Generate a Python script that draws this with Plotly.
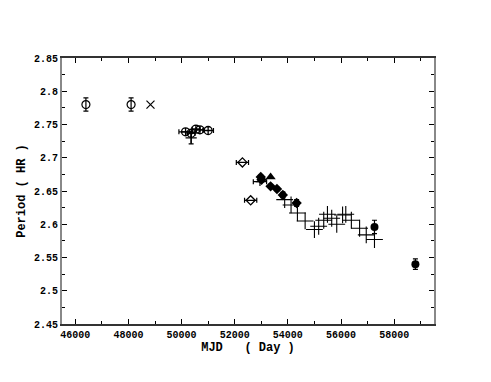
import plotly.graph_objects as go

# Open circles (early epochs) with vertical error bars
old_x = [46400, 48100]
old_y = [2.780, 2.780]
old_err = [0.010, 0.010]

# X marker
xm_x = [48830]
xm_y = [2.780]

# Cluster of open circles with horizontal error bars
cl_x = [50150, 50360, 50540, 50690, 51000]
cl_y = [2.739, 2.737, 2.743, 2.742, 2.741]
cl_xerr = [250, 150, 150, 150, 200]

# Plus with vertical error bar in cluster
cp_x = [50360]
cp_y = [2.730]
cp_err = [0.009]

# Open diamonds with horizontal error bars
od_x = [52290, 52600]
od_y = [2.693, 2.636]
od_xerr = [230, 230]

# Filled diamonds
fd_x = [52980, 53010, 53350, 53590, 53810, 54330]
fd_y = [2.671, 2.667, 2.657, 2.653, 2.644, 2.632]
fd_err = [0.003, 0.003, 0.003, 0.003, 0.004, 0.005]

# Horizontal error bar point
hb_x = [52950]
hb_y = [2.664]
hb_xerr = [250]

# Filled triangle
tr_x = [53350]
tr_y = [2.671]

# Filled circles with error bars
fc_x = [57260, 58800]
fc_y = [2.596, 2.540]
fc_err = [0.010, 0.008]

# Plus markers
pl_x = [53880, 54120, 54360, 54650, 55000, 55160, 55350, 55490, 55650,
        55840, 56060, 56180, 56390, 56700, 56950, 57260]
pl_y = [2.637, 2.629, 2.617, 2.605, 2.592, 2.597, 2.606, 2.615, 2.609,
        2.600, 2.614, 2.615, 2.606, 2.594, 2.584, 2.577]

x_ticks = [46000, 48000, 50000, 52000, 54000, 56000, 58000]
y_ticks = [2.45, 2.5, 2.55, 2.6, 2.65, 2.7, 2.75, 2.8, 2.85]

FONT = "Liberation Mono"
eb = dict(thickness=1.2, width=2.5, color="black")

fig = go.Figure()
fig.add_trace(go.Scatter(x=old_x, y=old_y, mode="markers",
                         marker=dict(symbol="circle-open", size=8, color="black", line=dict(width=1.2)),
                         error_y=dict(type="data", array=old_err, **eb)))
fig.add_trace(go.Scatter(x=xm_x, y=xm_y, mode="markers",
                         marker=dict(symbol="x-thin-open", size=8, color="black", line=dict(width=1.2))))
fig.add_trace(go.Scatter(x=cl_x, y=cl_y, mode="markers",
                         marker=dict(symbol="circle-cross-open", size=8, color="black", line=dict(width=1.3)),
                         error_x=dict(type="data", array=cl_xerr, **eb)))
fig.add_trace(go.Scatter(x=cp_x, y=cp_y, mode="markers",
                         marker=dict(symbol="cross-thin-open", size=8, color="black", line=dict(width=1.3)),
                         error_y=dict(type="data", array=cp_err, **eb)))
fig.add_trace(go.Scatter(x=od_x, y=od_y, mode="markers",
                         marker=dict(symbol="diamond-open", size=7, color="black", line=dict(width=1.3)),
                         error_x=dict(type="data", array=od_xerr, **eb)))
fig.add_trace(go.Scatter(x=hb_x, y=hb_y, mode="markers",
                         marker=dict(symbol="cross-thin-open", size=6, color="black", line=dict(width=1.2)),
                         error_x=dict(type="data", array=hb_xerr, **eb)))
fig.add_trace(go.Scatter(x=fd_x, y=fd_y, mode="markers",
                         marker=dict(symbol="diamond", size=8, color="black"),
                         error_y=dict(type="data", array=fd_err, **eb)))
fig.add_trace(go.Scatter(x=tr_x, y=tr_y, mode="markers",
                         marker=dict(symbol="triangle-up", size=9, color="black")))
fig.add_trace(go.Scatter(x=fc_x, y=fc_y, mode="markers",
                         marker=dict(symbol="circle", size=8, color="black"),
                         error_y=dict(type="data", array=fc_err, **eb)))
fig.add_trace(go.Scatter(x=pl_x, y=pl_y, mode="markers",
                         marker=dict(symbol="cross-thin-open", size=12, color="black",
                                     line=dict(width=1.1, color="#222"))))

fig.update_layout(
    width=491, height=382,
    margin=dict(l=47, r=65, t=50, b=66),
    paper_bgcolor="white", plot_bgcolor="white",
    showlegend=False,
    font=dict(family=FONT, size=10, color="black", weight="bold"),
)
fig.update_xaxes(range=[45500, 59500], tickvals=x_ticks, ticktext=[str(v) for v in x_ticks],
                 ticks="inside", ticklen=5, tickcolor="black", mirror="ticks",
                 showline=True, linecolor="#333", linewidth=1.5, showgrid=False, zeroline=False,
                 minor=dict(dtick=1000, tick0=45000, ticks="inside", ticklen=3, tickcolor="black"),
                 title=dict(text="MJD   ( Day )", font=dict(family=FONT, size=12, weight="bold"), standoff=2),
                 tickfont=dict(family=FONT, size=10, weight="bold"))
fig.update_yaxes(range=[2.45, 2.85], tickvals=y_ticks, ticktext=[f"{v:g}" for v in y_ticks],
                 ticks="inside", ticklen=5, tickcolor="black", mirror="ticks",
                 showline=True, linecolor="#888", linewidth=2, showgrid=False, zeroline=False,
                 minor=dict(dtick=0.025, tick0=2.45, ticks="inside", ticklen=3, tickcolor="black"),
                 title=dict(text="Period ( HR )", font=dict(family=FONT, size=12, weight="bold"), standoff=6),
                 tickfont=dict(family=FONT, size=10, weight="bold"))

fig.write_html("out.html")
